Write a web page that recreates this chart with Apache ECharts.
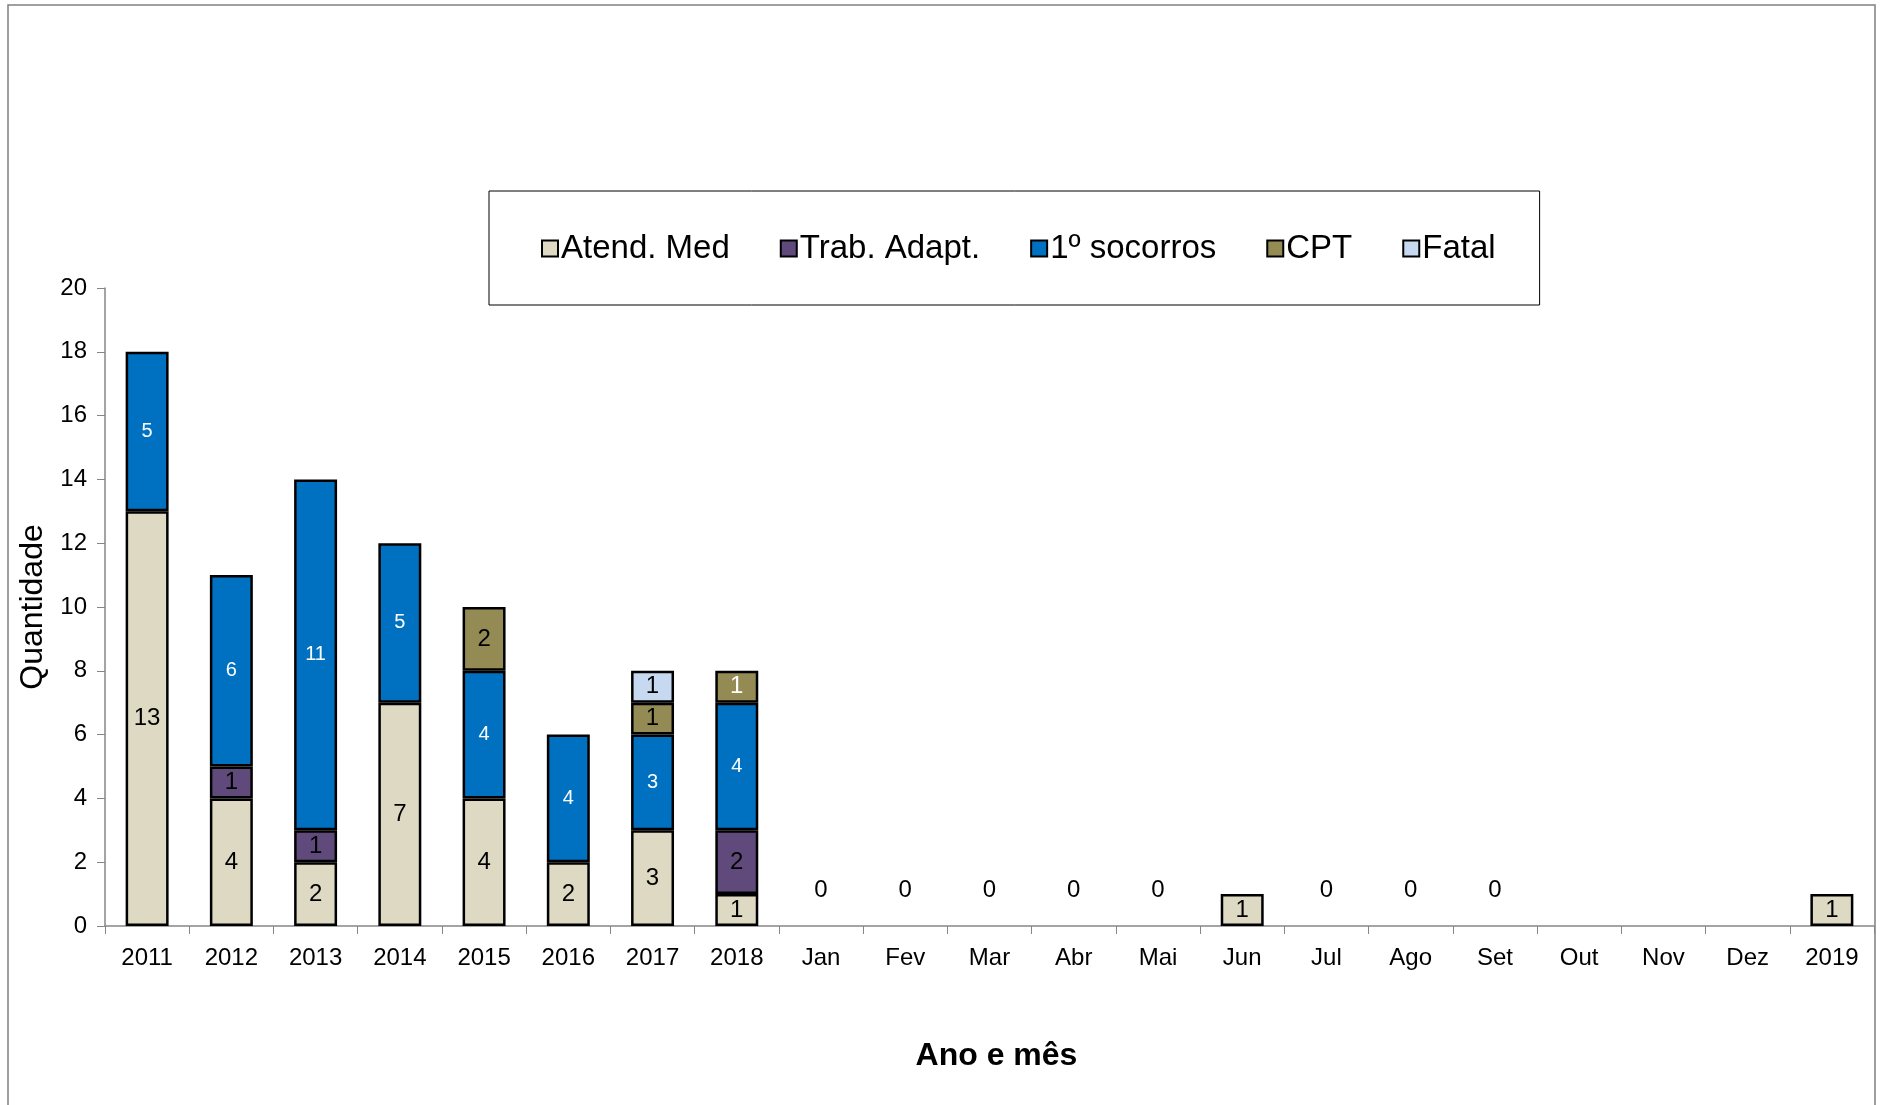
<!DOCTYPE html>
<html>
<head>
<meta charset="utf-8">
<script src="https://cdn.jsdelivr.net/npm/echarts@6/dist/echarts.min.js"></script>
<style>
  html, body { margin: 0; padding: 0; background: #fff; }
  #chart { width: 1885px; height: 1105px; }
</style>
</head>
<body>
<div id="chart"></div>
<script>
var categories = ["2011", "2012", "2013", "2014", "2015", "2016", "2017", "2018", "Jan", "Fev", "Mar", "Abr", "Mai", "Jun", "Jul", "Ago", "Set", "Out", "Nov", "Dez", "2019"]
var atend_med = [13, 4, 2, 7, 4, 2, 3, 1, 0, 0, 0, 0, 0, 1, 0, 0, 0, null, null, null, 1]
var trab_adapt = [null, 1, 1, null, null, null, null, 2, null, null, null, null, null, null, null, null, null, null, null, null, null]
var socorros = [5, 6, 11, 5, 4, 4, 3, 4, null, null, null, null, null, null, null, null, null, null, null, null, null]
var cpt = [null, null, null, null, 2, null, 1, 1, null, null, null, null, null, null, null, null, null, null, null, null, null]
var fatal = [null, null, null, null, null, null, 1, null, null, null, null, null, null, null, null, null, null, null, null, null, null]
var y_ticks = { min: 0, max: 20, interval: 2 }

var font = "Liberation Sans, Arial, sans-serif"

// zero months: no outline, label sits above the axis line
var atend_data = atend_med.map(function (v) {
    if (v === 0) {
        return { value: v, itemStyle: { borderWidth: 0 }, label: { position: "top", distance: 24 } }
    }
    return v
})

// the 2018 CPT label is white in the original
var cpt_data = cpt.map(function (v, i) {
    if (categories[i] === "2018" && v != null) {
        return { value: v, label: { color: "#fff" } }
    }
    return v
})

var chart = echarts.init(document.getElementById("chart"))

function barSeries(name, data, color, labelColor, labelSize) {
    return {
        name: name,
        type: "bar",
        stack: "total",
        barWidth: "51%",
        data: data,
        itemStyle: {
            color: color,
            borderColor: "#000",
            borderWidth: 2.5
        },
        label: {
            show: true,
            position: "inside",
            color: labelColor,
            fontSize: labelSize,
            fontFamily: font
        }
    }
}

var option = {
    animation: false,
    backgroundColor: "#fff",
    textStyle: { fontFamily: font },
    graphic: [
        {
            type: "rect",
            shape: { x: 8, y: 5, width: 1867, height: 1130 },
            style: { fill: "none", stroke: "#808080", lineWidth: 1.5 },
            silent: true
        }
    ],
    legend: {
        left: 489,
        top: 191,
        padding: [41, 44, 40, 52],
        borderColor: "#000",
        borderWidth: 1,
        icon: "rect",
        itemGap: 50,
        itemWidth: 16,
        itemHeight: 16,
        itemStyle: { borderWidth: 2, borderColor: "#000" },
        textStyle: { fontSize: 33, color: "#000", fontFamily: font, padding: [0, 0, 0, -2] },
        data: ["Atend. Med", "Trab. Adapt.", "1º socorros", "CPT", "Fatal"]
    },
    grid: {
        left: 105,
        right: 11,
        top: 288,
        bottom: 179
    },
    xAxis: {
        type: "category",
        data: categories,
        name: "Ano e mês",
        nameLocation: "middle",
        nameGap: 114,
        nameTextStyle: { fontSize: 32, fontWeight: "bold", color: "#000", fontFamily: font, padding: [0, 0, 0, 14] },
        axisLine: { lineStyle: { color: "#868686", width: 1.5 } },
        axisTick: { show: true, length: 8, lineStyle: { color: "#868686" } },
        axisLabel: { fontSize: 24, color: "#000", margin: 20, interval: 0 }
    },
    yAxis: {
        type: "value",
        min: y_ticks.min,
        max: y_ticks.max,
        interval: y_ticks.interval,
        name: "Quantidade",
        nameLocation: "middle",
        nameGap: 56,
        nameTextStyle: { fontSize: 32, color: "#000", fontFamily: font },
        splitLine: { show: false },
        axisLine: { show: true, lineStyle: { color: "#868686", width: 1.5 } },
        axisTick: { show: true, length: 8, lineStyle: { color: "#868686" } },
        axisLabel: { fontSize: 24, color: "#000", margin: 18 }
    },
    series: [
        barSeries("Atend. Med", atend_data, "#DDD9C3", "#000", 24),
        barSeries("Trab. Adapt.", trab_adapt, "#604A7B", "#000", 24),
        barSeries("1º socorros", socorros, "#0070C0", "#fff", 20),
        barSeries("CPT", cpt_data, "#948A54", "#000", 24),
        barSeries("Fatal", fatal, "#C6D9F1", "#000", 24)
    ]
}

chart.setOption(option)
</script>
</body>
</html>
